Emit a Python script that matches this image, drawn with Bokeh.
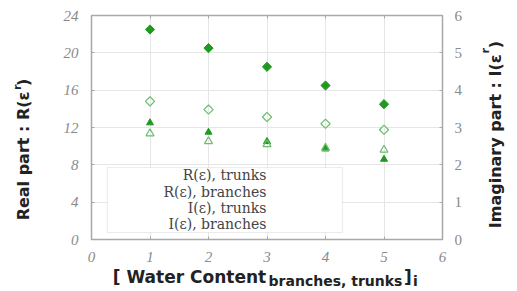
import math
from bokeh.plotting import figure
from bokeh.models import Range1d, LinearAxis, Label, BoxAnnotation, FixedTicker, ColumnDataSource
from bokeh.embed import file_html
from bokeh.resources import INLINE

# data
water_content = [1, 2, 3, 4, 5]
real_trunks = [12.5, 11.5, 10.5, 9.7, 8.6]
real_branches = [22.5, 20.5, 18.5, 16.5, 14.5]
imag_trunks = [2.84, 2.63, 2.55, 2.45, 2.40]
imag_branches = [3.70, 3.48, 3.28, 3.10, 2.94]
x_ticks = [0, 1, 2, 3, 4, 5, 6]
left_ticks = [0, 4, 8, 12, 16, 20, 24]
right_ticks = [0, 1, 2, 3, 4, 5, 6]
legend_labels = ["R(ε), trunks", "R(ε), branches", "I(ε), trunks", "I(ε), branches"]

DARK = "#1f9a1f"
LIGHT = "#6abf6a"
TICKCOL = "#8a8a8a"
FRAME = "#a8a8a8"
TITLE = "#222222"
TFONT = "DejaVu Sans"

p = figure(width=517, height=291, output_backend="svg", toolbar_location=None,
           x_range=Range1d(0, 6), y_range=Range1d(0, 24),
           min_border_left=91, min_border_right=75, min_border_top=15, min_border_bottom=52)
p.extra_y_ranges = {"imag": Range1d(0, 6)}

p.outline_line_color = FRAME
p.outline_line_width = 1.5
p.background_fill_color = "white"
p.border_fill_color = "white"


def frame_axis(ax):
    ax.axis_line_color = FRAME
    ax.major_tick_in = 3
    ax.major_tick_out = 0
    ax.minor_tick_line_color = None
    ax.major_tick_line_color = FRAME


bx = p.xaxis[0]
frame_axis(bx)
bx.ticker = FixedTicker(ticks=x_ticks)
bx.major_label_text_font = "Liberation Serif"
bx.major_label_text_font_style = "italic"
bx.major_label_text_font_size = "15px"
bx.major_label_text_color = TICKCOL
bx.major_label_standoff = 12

ly = p.yaxis[0]
frame_axis(ly)
ly.ticker = FixedTicker(ticks=left_ticks)
ly.major_label_text_font = "Liberation Serif"
ly.major_label_text_font_style = "italic"
ly.major_label_text_font_size = "15px"
ly.major_label_text_color = TICKCOL
ly.major_label_standoff = 13

ra = LinearAxis(y_range_name="imag", ticker=FixedTicker(ticks=right_ticks))
frame_axis(ra)
ra.major_label_text_font = "Liberation Serif"
ra.major_label_text_font_size = "15px"
ra.major_label_text_color = TICKCOL
ra.major_label_standoff = 12
p.add_layout(ra, "right")

ta = LinearAxis(ticker=FixedTicker(ticks=x_ticks))
frame_axis(ta)
ta.major_label_text_color = None
ta.major_label_text_font_size = "1px"
ta.major_label_standoff = 0
p.add_layout(ta, "above")

p.xgrid.grid_line_color = "#e6e6e6"
p.ygrid.grid_line_color = "#e6e6e6"
p.xgrid.ticker = FixedTicker(ticks=x_ticks)
p.ygrid.ticker = FixedTicker(ticks=left_ticks)

src = ColumnDataSource(dict(x=water_content, rt=real_trunks, rb=real_branches,
                            it=imag_trunks, ib=imag_branches))
p.scatter("x", "rt", source=src, marker="triangle", size=7, color=DARK)
p.scatter("x", "rb", source=src, marker="square", angle=math.pi / 4, size=6.5, color=DARK)
p.scatter("x", "it", source=src, marker="triangle", size=8, fill_color=None,
          line_color=LIGHT, line_width=1.2, y_range_name="imag")
p.scatter("x", "ib", source=src, marker="square", angle=math.pi / 4, size=6.5, fill_color=None,
          line_color=LIGHT, line_width=1.2, y_range_name="imag")

# custom legend (text then marker)
p.add_layout(BoxAnnotation(left=0.27, right=4.29, bottom=0.75, top=7.7,
                           fill_color="white", fill_alpha=1.0,
                           line_color="#bdbdbd", line_width=1, level="overlay"))
row_y = [6.9, 5.1, 3.35, 1.7]
for lab, yy in zip(legend_labels, row_y):
    p.add_layout(Label(x=2.99, y=yy, text=lab, text_align="right", text_baseline="middle",
                       text_font="DejaVu Serif", text_font_size="14px",
                       text_color="#444444", level="overlay"))
leg_src = ColumnDataSource(dict(x=[3.66] * 4, y=row_y,
                                m=["triangle", "square", "triangle", "square"],
                                ang=[0, math.pi / 4, 0, math.pi / 4],
                                f=[DARK, DARK, "white", "white"],
                                l=[DARK, DARK, LIGHT, LIGHT],
                                sz=[7, 6.5, 8, 6.5]))
p.scatter("x", "y", source=leg_src, marker="m", angle="ang", size="sz", fill_color="f",
          line_color="l", line_width=1.2, level="overlay")


# label-only axes used for the titles (allows sub/superscripts)
def text_axis(side, positions, texts, size, standoff, orientation="horizontal", range_name=None):
    kw = {}
    if range_name:
        kw["y_range_name"] = range_name
    ax = LinearAxis(ticker=FixedTicker(ticks=positions), **kw)
    ax.major_label_overrides = {pos: t for pos, t in zip(positions, texts)}
    ax.axis_line_color = None
    ax.major_tick_line_color = None
    ax.minor_tick_line_color = None
    ax.major_tick_in = 0
    ax.major_tick_out = 0
    ax.major_label_standoff = standoff
    ax.major_label_orientation = orientation
    ax.major_label_text_font = TFONT
    ax.major_label_text_font_style = "bold"
    ax.major_label_text_font_size = size
    ax.major_label_text_color = TITLE
    p.add_layout(ax, side)
    return ax


# x title: [ Water Content_{branches, trunks} ]_i
text_axis("below", [1.675, 5.41], ["[ Water Content", "]"], "17px", 2)
text_axis("below", [4.171, 5.538], ["branches, trunks", "i"], "14px", -17)

# left title: Real part : R(eps^r)   (rotated labels end at their tick)
text_axis("left", [15.86, 17.22], ["Real part : R(ε", ")"], "16px", 37, math.pi / 2)
text_axis("left", [16.61], ["r"], "11px", -16, math.pi / 2)

# right title: Imaginary part : I(eps^r)   (rotated labels start at their tick)
text_axis("right", [0.303, 5.125], ["Imaginary part : I(ε", ")"], "16px", 30, math.pi / 2, "imag")
text_axis("right", [4.981], ["r"], "11px", -32, math.pi / 2, "imag")

open("out.html", "w").write(file_html(p, INLINE))
